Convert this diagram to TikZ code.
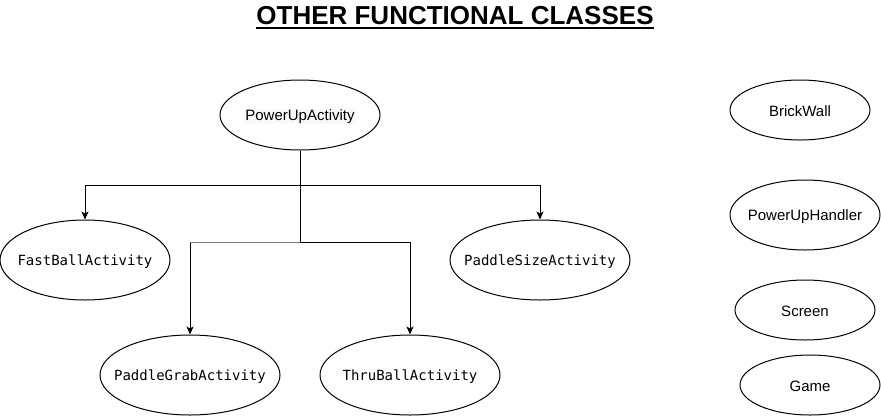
\documentclass[tikz,border=0pt]{standalone}
\usepackage{fontspec}
\setmainfont{Liberation Sans}
\newfontfamily\monofont{DejaVu Sans Mono}
\usetikzlibrary{arrows.meta,shapes.geometric,calc}
\definecolor{lblbg}{RGB}{248,249,250}
\definecolor{midgray}{RGB}{120,120,120}
\tikzset{
  oval/.style={draw=black,line width=1pt,ellipse,inner sep=0pt},
  sanslbl/.style={font=\fontsize{15}{18}\selectfont,yshift=-1.5pt},
  monolbl/.style={font=\monofont\fontsize{14}{17}\selectfont,yshift=-1.5pt},
  edge/.style={draw=black,line width=1pt,-{Stealth[length=8pt,width=7pt,inset=2pt]}},
}
\begin{document}
\begin{tikzpicture}[x=1pt,y=-1pt]
\useasboundingbox (0,0) rectangle (881,416);
% title
\node[anchor=base,font=\bfseries\fontsize{26}{30}\selectfont,inner sep=0pt] (title) at (455,24) {OTHER FUNCTIONAL CLASSES};
\draw[line width=2pt] ($(title.base west)+(0,3.5)$) coordinate (ulA) -- ($(title.base east)+(0,3.5)$) coordinate (ulB);
% nodes
\node[oval,minimum width=160pt,minimum height=70pt] (pua) at (300,115) {};
\node[sanslbl,fill=lblbg,inner sep=1pt] (puaT) at (pua.center) {PowerUpActivity};
\node[oval,minimum width=170pt,minimum height=80pt] (fb) at (85,260) {};
\node[monolbl] (fbT) at (fb.center) {FastBallActivity};
\node[oval,minimum width=180pt,minimum height=80pt] (ps) at (540,260) {};
\node[monolbl] (psT) at (ps.center) {PaddleSizeActivity};
\node[oval,minimum width=180pt,minimum height=80pt] (pg) at (190,375) {};
\node[monolbl] (pgT) at (pg.center) {PaddleGrabActivity};
\node[oval,minimum width=180pt,minimum height=80pt] (tb) at (410,375) {};
\node[monolbl] (tbT) at (tb.center) {ThruBallActivity};
\node[oval,minimum width=140pt,minimum height=60pt] (bw) at (800,110) {};
\node[sanslbl] (bwT) at (bw.center) {BrickWall};
\node[oval,minimum width=150pt,minimum height=70pt] (puh) at (805,215) {};
\node[sanslbl] (puhT) at (puh.center) {PowerUpHandler};
\node[oval,minimum width=140pt,minimum height=60pt] (scr) at (805,310) {};
\node[sanslbl] (scrT) at (scr.center) {Screen};
\node[oval,minimum width=140pt,minimum height=60pt] (gm) at (810,385) {};
\node[sanslbl] (gmT) at (gm.center) {Game};
% connectors
\coordinate (j1) at (300,185);
\coordinate (j2) at (300,242);
\coordinate (j2l) at (190,242);
\draw[edge] (pua.south) -- (j1) -| (fb.north);
\draw[edge] (pua.south) -- (j1) -| (ps.north);
\draw[edge] (pua.south) -- (j2) -| (pg.north);
\draw[edge] (pua.south) -- (j2) -| (tb.north);
\draw[draw=midgray,line width=1pt] (j2l) -- (j2);
\end{tikzpicture}
\end{document}
